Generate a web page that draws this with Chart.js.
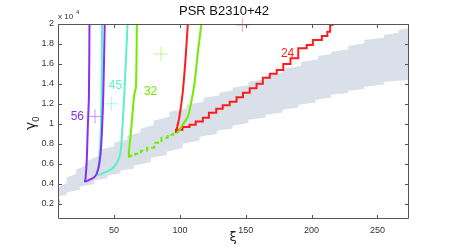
<!DOCTYPE html>
<html>
<head>
<meta charset="utf-8">
<script src="https://cdn.jsdelivr.net/npm/chart.js@4.4.0/dist/chart.umd.min.js"></script>
<style>
  html, body { margin: 0; padding: 0; background: #fff; }
  #wrap { width: 452px; height: 249px; }
</style>
</head>
<body>
<div id="wrap"><canvas id="psrChart" width="452" height="249"></canvas></div>
<script>
const xTicks = [50, 100, 150, 200, 250];
const yTicks = [0.2, 0.4, 0.6, 0.8, 1, 1.2, 1.4, 1.6, 1.8, 2];

// grey allowed band (stair edges)
const bandHighXi = [7, 14, 21, 28, 38, 50, 60, 70, 80, 92, 105, 118, 130, 140, 152, 165, 178, 192, 205, 215, 228, 240, 255, 266, 274];
const bandHighG  = [0.36, 0.46, 0.54, 0.62, 0.74, 0.81, 0.88, 0.95, 1.03, 1.12, 1.19, 1.26, 1.31, 1.36, 1.42, 1.48, 1.55, 1.62, 1.68, 1.72, 1.78, 1.84, 1.89, 1.94, 1.98];
const bandLowXi  = [7, 14, 24, 35, 45, 55, 65, 78, 90, 102, 115, 128, 140, 152, 165, 178, 190, 203, 215, 228, 240, 255, 274];
const bandLowG   = [0.27, 0.31, 0.37, 0.43, 0.48, 0.53, 0.58, 0.66, 0.72, 0.80, 0.87, 0.93, 0.98, 1.04, 1.09, 1.14, 1.19, 1.24, 1.29, 1.33, 1.37, 1.42, 1.46];

// curve 56 (purple)
const c56Xi = [31.3, 30.9, 30.0, 29.2, 28.3, 27.9, 31.5, 34.7, 36.8, 38.8, 40.3, 41.8, 42.9];
const c56G  = [2.0, 1.29, 0.95, 0.62, 0.45, 0.42, 0.44, 0.46, 0.50, 0.60, 0.80, 1.29, 2.0];

// curve 45 (teal)
const c45Xi = [40.8, 40.5, 39.3, 38.2, 37.3, 39.5, 42.4, 47.5, 51.3, 54.6, 56.3, 57.8, 60.2];
const c45G  = [2.0, 1.29, 0.72, 0.58, 0.50, 0.49, 0.51, 0.54, 0.59, 0.69, 0.96, 1.3, 2.0];

// curve 32 (green) - left branch, dashed bottom, right branch
const c32LeftXi  = [67.3, 66.6, 65.3, 63.0, 61.2, 61.5];
const c32LeftG   = [2.0, 1.37, 1.29, 0.95, 0.70, 0.66];
const c32DashXi  = [61.5, 66, 70.4, 75, 80.5, 86, 90.7, 95, 98.3];
const c32DashG   = [0.66, 0.68, 0.70, 0.73, 0.76, 0.81, 0.86, 0.89, 0.91];
const c32RightXi = [98.3, 102.1, 106, 108.5, 111.1, 113.6, 116.2];
const c32RightG  = [0.91, 0.99, 1.07, 1.21, 1.41, 1.71, 1.99];

// curve 24 (red) - left branch and stair branch
const c24LeftXi  = [106, 104.2, 102.1, 99.6, 97];
const c24LeftG   = [2.0, 1.64, 1.31, 1.07, 0.91];
const c24StairXi = [97, 102, 107.3, 112, 117.4, 122, 127.6, 132.5, 137.8, 143, 147.9, 153, 158.2, 163, 168.3, 173.5, 178.5, 184, 189.9, 196.3, 201, 207.8, 212, 214.1, 216.6];
const c24StairG  = [0.91, 0.94, 0.967, 0.99, 1.023, 1.06, 1.11, 1.15, 1.185, 1.22, 1.265, 1.31, 1.355, 1.40, 1.46, 1.50, 1.54, 1.60, 1.657, 1.757, 1.79, 1.84, 1.88, 1.923, 1.99];

// cross markers
const crossXi = [35.5, 47.9, 85.6, 147.5];
const crossG  = [1.073, 1.2, 1.7, 1.99];

// small mark on the left axis
const markXi = [7.6, 7.6];
const markG  = [0.20, 0.24];

// curve labels
const labelText = ['56', '45', '32', '24'];
const labelXi   = [22.1, 51, 77.7, 181.8];
const labelG    = [1.066, 1.378, 1.317, 1.706];

const colPurple = '#8a2ef0';
const colTeal   = '#5ef0c6';
const colGreen  = '#70ec00';
const colRed    = '#ff1c1c';
const crossCols = ['rgba(150,90,240,0.6)', 'rgba(120,240,205,0.6)', 'rgba(140,240,90,0.6)', 'rgba(255,110,110,0.6)'];
const labelCols = [colPurple, colTeal, colGreen, colRed];

function pts(xs, ys) {
    return xs.map((x, i) => ({ x: x, y: ys[i] }));
}

// edge values -> sawtooth stairs: slope part of the way, then jump
function stairs(xs, ys) {
    let out = [];
    for (let i = 0; i < xs.length; i++) {
        out.push({ x: xs[i], y: ys[i] });
        if (i < xs.length - 1) out.push({ x: xs[i + 1], y: ys[i] + 0.45 * (ys[i + 1] - ys[i]) });
    }
    return out;
}

function line(xs, ys, color, extra) {
    return Object.assign({
        data: pts(xs, ys),
        showLine: true,
        borderColor: color,
        borderWidth: 2,
        pointRadius: 0,
        fill: false,
        tension: 0.3,
        order: 1
    }, extra || {});
}

// band: fill the upper edge down in grey, then the lower edge down in white
function bandEdge(xs, ys, colour, order) {
    return {
        data: stairs(xs, ys),
        showLine: true,
        borderWidth: 0,
        borderColor: 'rgba(0,0,0,0)',
        pointRadius: 0,
        fill: 'start',
        backgroundColor: colour,
        order: order
    };
}

// draws the box, inward ticks, title and axis labels
const frame = {
    id: 'frame',
    afterDraw(chart) {
        const ctx = chart.ctx;
        const a = chart.chartArea;
        const xs = chart.scales.x, ys = chart.scales.y;
        ctx.save();
        ctx.strokeStyle = '#555';
        ctx.lineWidth = 1;
        ctx.beginPath();
        ctx.rect(a.left + 0.5, a.top + 0.5, a.right - a.left - 1, a.bottom - a.top - 1);
        ctx.stroke();
        ctx.beginPath();
        xTicks.forEach(v => {
            const px = Math.round(xs.getPixelForValue(v)) + 0.5;
            ctx.moveTo(px, a.bottom); ctx.lineTo(px, a.bottom - 4);
            ctx.moveTo(px, a.top); ctx.lineTo(px, a.top + 4);
        });
        yTicks.forEach(v => {
            const py = Math.round(ys.getPixelForValue(v)) + 0.5;
            ctx.moveTo(a.left, py); ctx.lineTo(a.left + 4, py);
            ctx.moveTo(a.right, py); ctx.lineTo(a.right - 4, py);
        });
        ctx.stroke();

        // curve labels
        ctx.font = '12px "Liberation Sans", Arial, sans-serif';
        ctx.textAlign = 'center';
        ctx.textBaseline = 'middle';
        labelText.forEach((t, i) => {
            ctx.fillStyle = labelCols[i];
            ctx.fillText(t, xs.getPixelForValue(labelXi[i]), ys.getPixelForValue(labelG[i]));
        });

        ctx.fillStyle = '#111';
        ctx.font = '13px "Liberation Sans", Arial, sans-serif';
        ctx.textBaseline = 'alphabetic';
        ctx.fillText('PSR B2310+42', 224, 15);

        // x 10^4 exponent
        ctx.font = '8px "Liberation Sans", Arial, sans-serif';
        ctx.textAlign = 'left';
        ctx.fillStyle = '#333';
        ctx.fillText('x 10', 58, 19);
        ctx.font = '6px "Liberation Sans", Arial, sans-serif';
        ctx.fillText('4', 76, 14);

        // xi label
        ctx.fillStyle = '#222';
        ctx.font = '13px "DejaVu Sans", sans-serif';
        ctx.textAlign = 'center';
        ctx.fillText('ξ', 233, 241);

        // gamma_0 label, rotated
        ctx.translate(35, 122);
        ctx.rotate(-Math.PI / 2);
        ctx.font = '14px "DejaVu Sans", sans-serif';
        ctx.textAlign = 'left';
        ctx.fillText('γ', -8, 0);
        ctx.font = '9px "DejaVu Sans", sans-serif';
        ctx.fillText('0', 0, 4);
        ctx.restore();
    }
};

const tickFont = { family: '"Liberation Sans", Arial, sans-serif', size: 9 };

new Chart(document.getElementById('psrChart'), {
    type: 'scatter',
    data: {
        datasets: [
            bandEdge(bandHighXi, bandHighG, '#d9e0ea', 30),
            bandEdge(bandLowXi, bandLowG, '#ffffff', 25),
            line(c56Xi, c56G, colPurple),
            line(c45Xi, c45G, colTeal),
            line(c32LeftXi, c32LeftG, colGreen),
            line(c32DashXi, c32DashG, colGreen, { stepped: 'after', tension: 0, borderDash: [5, 3] }),
            line(c32RightXi, c32RightG, colGreen),
            line(c24LeftXi, c24LeftG, colRed),
            line(c24StairXi, c24StairG, colRed, { stepped: 'after', tension: 0 }),
            line(markXi, markG, '#1a1a8a', { tension: 0 }),
            {
                data: pts(crossXi, crossG),
                pointStyle: 'cross',
                pointRadius: 7,
                pointBorderWidth: 1,
                pointBorderColor: crossCols,
                showLine: false,
                clip: false,
                order: 0
            }
        ]
    },
    options: {
        responsive: false,
        animation: false,
        events: [],
        layout: { padding: { left: 0, right: 43, top: 24, bottom: 0 } },
        plugins: { legend: { display: false }, tooltip: { enabled: false } },
        scales: {
            x: {
                type: 'linear',
                min: 7.4,
                max: 274,
                afterBuildTicks: s => { s.ticks = xTicks.map(v => ({ value: v })); },
                afterFit: s => { s.height = 30; },
                grid: { display: false, drawTicks: false },
                border: { display: false },
                ticks: { font: tickFont, color: '#333', padding: 6 }
            },
            y: {
                type: 'linear',
                min: 0.045,
                max: 2,
                afterBuildTicks: s => { s.ticks = yTicks.map(v => ({ value: v })); },
                afterFit: s => { s.width = 58; },
                grid: { display: false, drawTicks: false },
                border: { display: false },
                ticks: { font: tickFont, color: '#333', padding: 4, callback: v => String(v) }
            }
        }
    },
    plugins: [frame]
});
</script>
</body>
</html>
